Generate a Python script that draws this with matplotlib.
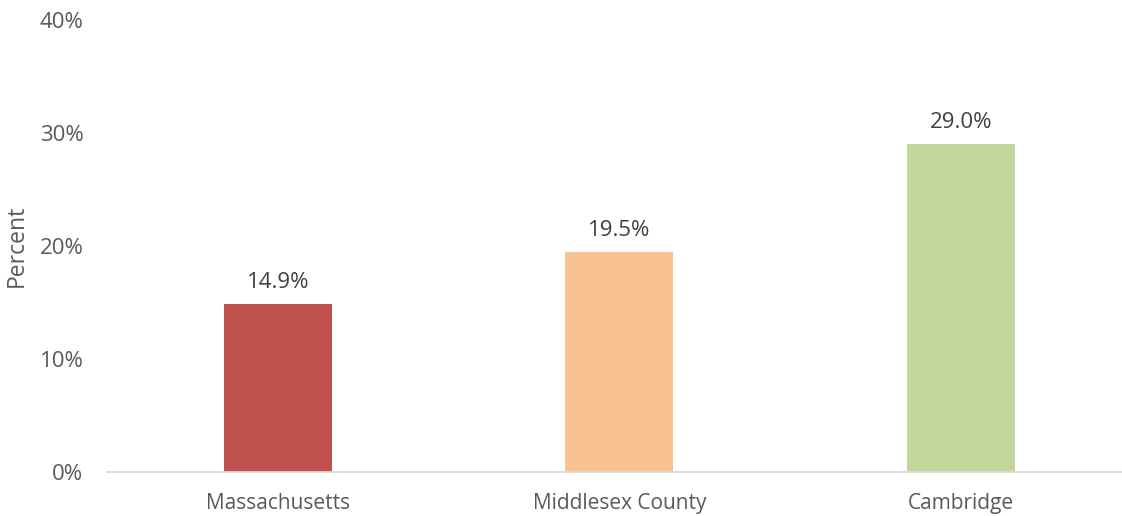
import matplotlib
matplotlib.use('Agg')
import matplotlib.pyplot as plt
from matplotlib.ticker import FuncFormatter

plt.rcParams['font.family'] = ['Open Sans', 'DejaVu Sans']

places = ['Massachusetts', 'Middlesex County', 'Cambridge']
percent = [14.9, 19.5, 29.0]
colors = ['#C0504D', '#F9C293', '#C4D79B']

fig = plt.figure(figsize=(11.22, 5.16), dpi=100)
ax = fig.add_axes([107/1122, 1 - 472/516, 1 - 107/1122, (472 - 20)/516])

x = range(len(places))
ax.bar(x, percent, width=0.316, color=colors, zorder=2)
for i, v in enumerate(percent):
    ax.annotate('%.1f%%' % v, (i, v), xytext=(0, 8), textcoords='offset points',
                ha='center', va='bottom', fontsize=16, color='#404040')

ax.set_xlim(-0.5, 2.5 - 9.75/341.5)
ax.set_ylim(0, 40)
ax.set_yticks([0, 10, 20, 30, 40])
ax.yaxis.set_major_formatter(FuncFormatter(lambda v, p: '%d%%' % v))
ax.set_xticks(list(x))
ax.set_xticklabels(places, fontsize=15)
ax.tick_params(axis='y', length=0, labelsize=16, labelcolor='#595959', pad=17)
ax.tick_params(axis='x', length=0, labelcolor='#595959', pad=15)
ax.set_ylabel('Percent', fontsize=16.5, color='#595959', labelpad=8)

for s in ['top', 'right', 'left']:
    ax.spines[s].set_visible(False)
ax.spines['bottom'].set_color('#D9D9D9')
ax.spines['bottom'].set_linewidth(1.3)

fig.savefig('out.png', dpi=100)
